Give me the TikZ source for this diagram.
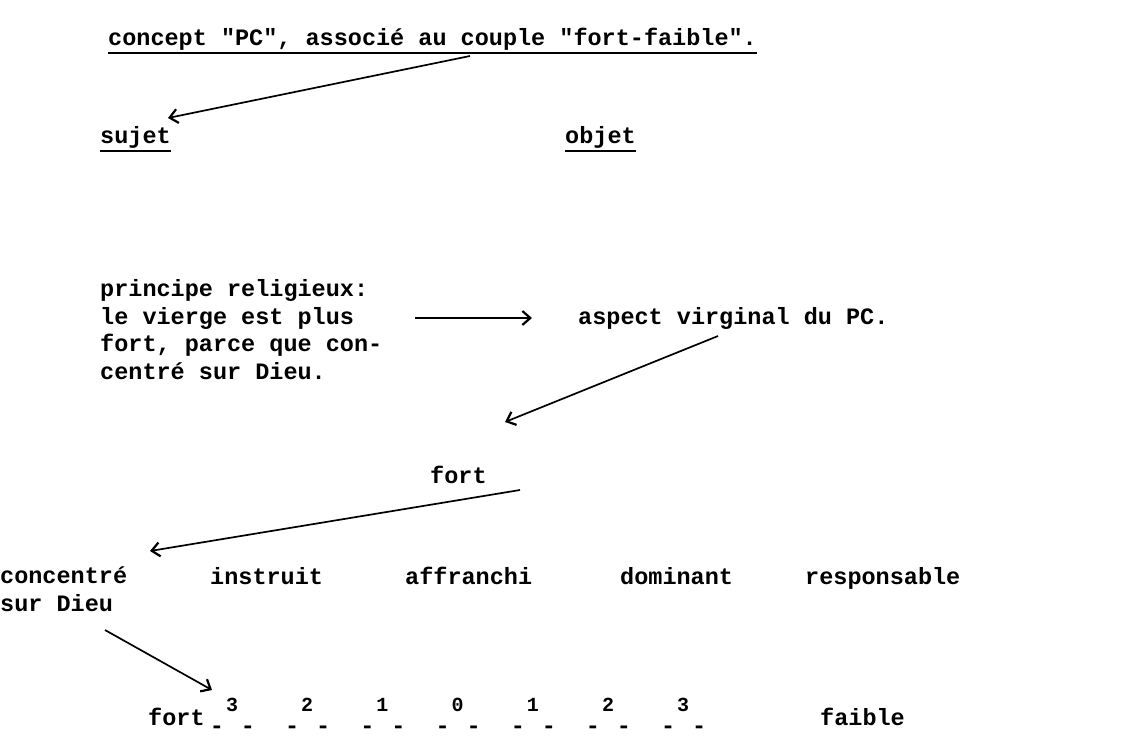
\documentclass[tikz,border=0pt]{standalone}
\usepackage{fontspec}
\setmonofont{Liberation Mono}
\usetikzlibrary{arrows.meta}
\begin{document}
\begin{tikzpicture}[x=1pt,y=-1pt,
  txt/.style={font=\ttfamily\bfseries\fontsize{23.5}{27.5}\selectfont, inner sep=0pt, anchor=base west, align=left},
  sup/.style={font=\ttfamily\bfseries\fontsize{20}{21}\selectfont, inner sep=0pt, anchor=center},
  dsh/.style={font=\ttfamily\bfseries\fontsize{23.5}{27.5}\selectfont, inner sep=0pt, anchor=center},
  uline/.style={line width=2.2pt},
  arr/.style={line width=1.7pt, -{Straight Barb[length=8pt,width=14pt,line width=2.2pt]}}]
\useasboundingbox (0,0) rectangle (1126,737);
% texts
\node[txt] (title) at (108,45) {concept "PC", associé au couple "fort-faible".};
\node[txt] (sujet) at (100,143) {sujet};
\node[txt] (objet) at (565,143) {objet};
\node[txt] (princ) at (100,379) {principe religieux:\\le vierge est plus\\fort, parce que con-\\centré sur Dieu.};
\node[txt] (aspect) at (578,324) {aspect virginal du PC.};
\node[txt] (fort) at (430,483) {fort};
\node[txt] (conc) at (0,611) {concentré\\sur Dieu};
\node[txt] (instr) at (210,584) {instruit};
\node[txt] (affr) at (405,584) {affranchi};
\node[txt] (domi) at (620,584) {dominant};
\node[txt] (resp) at (805,584) {responsable};
\node[txt] (fortb) at (148,725) {fort};
\node[txt] (faib) at (820,725) {faible};
% scale
\foreach \d [count=\i] in {3,2,1,0,1,2,3} {
  \pgfmathsetmacro{\xc}{232+75.2*(\i-1)}
  \node[sup] (d\i) at (\xc,705) {\d};
  \node[dsh] (l\i) at (\xc-15,730) {-};
  \node[dsh] (r\i) at (\xc+16,730) {-};
}
% underlines
\draw[uline] ([yshift=-8pt]title.base west) -- ([yshift=-8pt]title.base east);
\draw[uline] ([yshift=-8pt]sujet.base west) -- ([yshift=-8pt]sujet.base east);
\draw[uline] ([yshift=-8pt]objet.base west) -- ([yshift=-8pt]objet.base east);
% connector end points
\coordinate (a1s) at (470,56);
\coordinate (a1e) at (168,118);
\coordinate (a2s) at (415,318);
\coordinate (a2e) at (532,318);
\coordinate (a3s) at (718,336);
\coordinate (a3e) at (505,422);
\coordinate (a4s) at (520,490);
\coordinate (a4e) at (150,551);
\coordinate (a5s) at (105,630);
\coordinate (a5e) at (212,690);
\draw[arr] (a1s) -- (a1e);
\draw[arr] (a2s) -- (a2e);
\draw[arr] (a3s) -- (a3e);
\draw[arr] (a4s) -- (a4e);
\draw[arr] (a5s) -- (a5e);
\end{tikzpicture}
\end{document}
